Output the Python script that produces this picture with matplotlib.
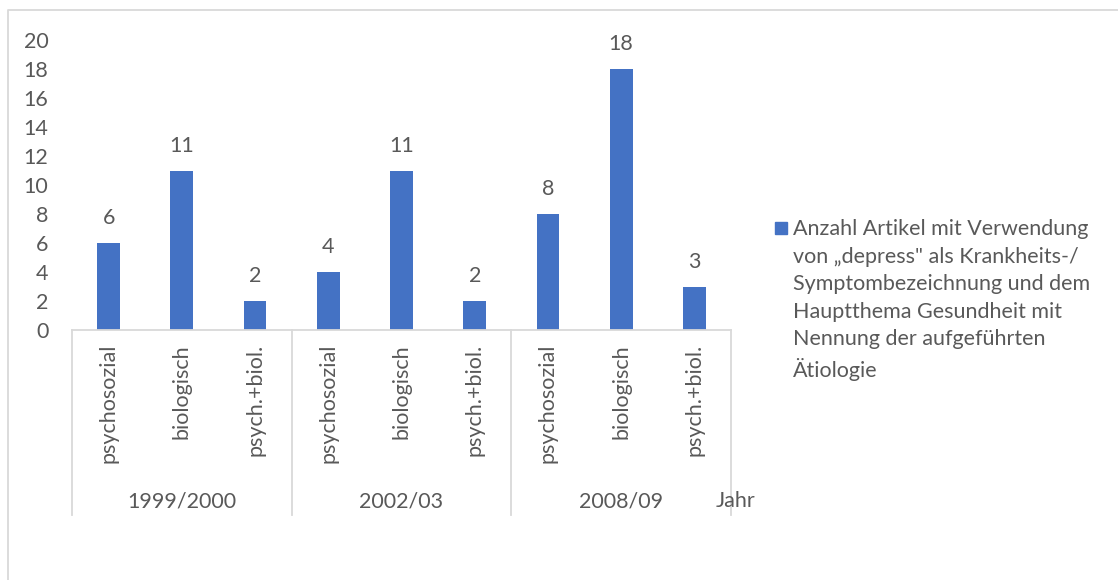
import matplotlib

matplotlib.use("Agg")
import matplotlib.pyplot as plt
from matplotlib.lines import Line2D
from matplotlib.patches import Rectangle
from matplotlib.transforms import blended_transform_factory

# data
years = ["1999/2000", "2002/03", "2008/09"]
causes = ["psychosozial", "biologisch", "psych.+biol."]
counts = [6, 11, 2, 4, 11, 2, 8, 18, 3]
series_label = ("Anzahl Artikel mit Verwendung\n"
                "von \u201edepress\" als Krankheits-/\n"
                "Symptombezeichnung und dem\n"
                "Hauptthema Gesundheit mit\n"
                "Nennung der aufgeführten\n"
                "Ätiologie")
axis_title = "Jahr"
yticks = list(range(0, 21, 2))

BLUE = "#4472C4"
TEXT = "#595959"
LINE = "#D9D9D9"
FS = 15.5

plt.rcParams["font.family"] = ["Lato", "DejaVu Sans"]

W, H = 1118, 580
fig = plt.figure(figsize=(W / 100, H / 100), dpi=100)


def px(x, y):
    return x / W, 1 - y / H


# outer chart border (cropped at right and bottom)
fig.add_artist(Line2D([8 / W, 8 / W, 1], [0, 1 - 10 / H, 1 - 10 / H],
                      color=LINE, lw=1.3, transform=fig.transFigure))

left, right, top, bottom = 72, 731, 40, 330
ax = fig.add_axes([left / W, 1 - bottom / H, (right - left) / W, (bottom - top) / H])

xs = list(range(len(counts)))
bars = ax.bar(xs, counts, width=0.31, color=BLUE)
for x, v in zip(xs, counts):
    ax.annotate(str(v), (x, v), xytext=(0, 18), textcoords="offset points",
                ha="center", va="center", fontsize=FS, color=TEXT)

ax.set_xlim(-0.5, len(counts) - 0.5)
ax.set_ylim(0, 20)
ax.set_yticks(yticks)
ax.tick_params(axis="y", length=0, pad=17, labelsize=FS, labelcolor=TEXT)
ax.set_xticks([])
for s in ["top", "right", "left"]:
    ax.spines[s].set_visible(False)
ax.spines["bottom"].set_color(LINE)
ax.spines["bottom"].set_linewidth(1.3)

# multi-level category axis
tr = blended_transform_factory(ax.transData, ax.transAxes)
ax_h = bottom - top
line_end = -(515 - bottom) / ax_h
for g in range(len(years) + 1):
    xg = g * len(causes) - 0.5
    ax.plot([xg, xg], [0, line_end], color=LINE, lw=1.3, transform=tr, clip_on=False)
for i, x in enumerate(xs):
    ax.text(x, -14 / ax_h, causes[i % len(causes)], rotation=90, ha="center", va="top",
            fontsize=FS, color=TEXT, transform=tr)
for g, yr in enumerate(years):
    xc = g * len(causes) + (len(causes) - 1) / 2
    ax.text(xc, -(501 - bottom) / ax_h, yr, ha="center", va="center",
            fontsize=FS, color=TEXT, transform=tr)
fig.text(*px(716, 501), axis_title, ha="left", va="center", fontsize=FS, color=TEXT)

# legend drawn by hand so the key sits on the first line
kx, ky = px(775, 234)
fig.add_artist(Rectangle((kx, ky), 12 / W, 12 / H, color=BLUE, transform=fig.transFigure))
fig.text(*px(793, 219), series_label, ha="left", va="top", fontsize=FS, color=TEXT,
         linespacing=1.47)

fig.savefig("out.png", dpi=100)
